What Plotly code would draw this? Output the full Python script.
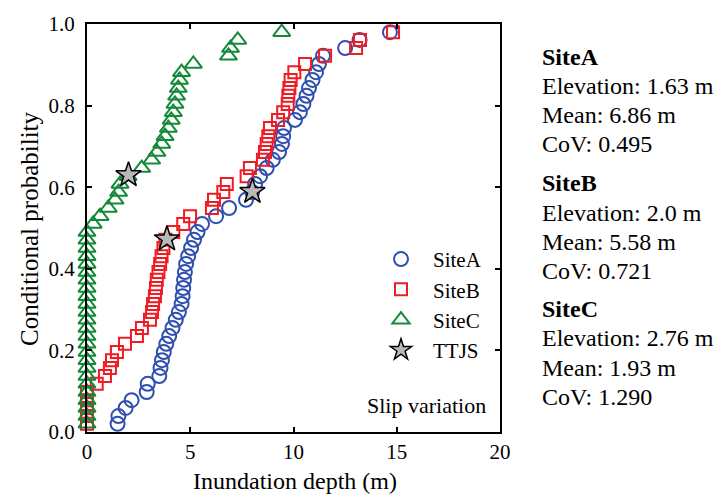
import plotly.graph_objects as go

# Conditional probability levels (plotting positions)
cond_prob = [0.020, 0.039, 0.059, 0.078, 0.098, 0.118, 0.137, 0.157, 0.176, 0.196,
             0.216, 0.235, 0.255, 0.275, 0.294, 0.314, 0.333, 0.353, 0.373, 0.392,
             0.412, 0.431, 0.451, 0.471, 0.490, 0.510, 0.529, 0.549, 0.569, 0.588,
             0.608, 0.627, 0.647, 0.667, 0.686, 0.706, 0.725, 0.745, 0.765, 0.784,
             0.804, 0.824, 0.843, 0.863, 0.882, 0.902, 0.922, 0.941, 0.961, 0.980]

site_a_depth = [1.48, 1.52, 1.87, 2.16, 2.89, 2.94, 3.50, 3.56, 3.63, 3.72,
                3.84, 3.98, 4.14, 4.30, 4.45, 4.58, 4.63, 4.66, 4.70, 4.74,
                4.80, 4.90, 5.04, 5.18, 5.35, 5.57, 6.25, 6.88, 7.70, 8.00,
                8.14, 8.38, 8.70, 9.00, 9.30, 9.44, 9.50, 9.54, 10.07, 10.31,
                10.48, 10.63, 10.75, 10.92, 11.09, 11.23, 11.43, 12.50, 13.20, 14.67]

site_b_depth = [0.0, 0.0, 0.0, 0.0, 0.0, 0.47, 0.87, 1.11, 1.21, 1.45,
                1.84, 2.42, 2.66, 3.05, 3.15, 3.20, 3.29, 3.34, 3.38, 3.46,
                3.54, 3.61, 3.70, 3.80, 4.18, 4.66, 4.99, 6.05, 6.15, 6.60,
                6.77, 7.73, 7.89, 8.52, 8.62, 8.70, 8.78, 8.86, 9.25, 9.50,
                9.72, 9.75, 9.80, 9.86, 10.04, 10.56, 11.53, 13.03, 13.22, 14.82]

site_c_depth = [0.0, 0.0, 0.0, 0.0, 0.0, 0.0, 0.0, 0.0, 0.0, 0.0,
                0.0, 0.0, 0.0, 0.0, 0.0, 0.0, 0.0, 0.0, 0.0, 0.0,
                0.0, 0.0, 0.0, 0.0, 0.0, 0.30, 0.63, 1.03, 1.36, 1.53,
                1.60, 1.99, 2.65, 3.13, 3.39, 3.62, 3.78, 3.94, 4.08, 4.18,
                4.26, 4.34, 4.42, 4.48, 4.58, 5.15, 6.85, 6.95, 7.30, 9.43]

ttjs_depth = [8.01, 3.87, 2.01]
ttjs_prob = [0.589, 0.473, 0.630]

x_ticks = [0, 5, 10, 15, 20]
y_ticks = [0.0, 0.2, 0.4, 0.6, 0.8, 1.0]

site_names = ["SiteA", "SiteB", "SiteC"]
elevations = ["1.63", "2.0", "2.76"]
means = ["6.86", "5.58", "1.93"]
covs = ["0.495", "0.721", "1.290"]

FONT = "Liberation Serif, Times New Roman, serif"
BLUE = "#2f4fb0"
RED = "#f01c24"
GREEN = "#14893a"

fig = go.Figure()
fig.add_trace(go.Scatter(x=site_a_depth, y=cond_prob, mode="markers", name="SiteA",
                         cliponaxis=False,
                         marker=dict(symbol="circle-open", size=14, color=BLUE,
                                     line=dict(width=2, color=BLUE))))
fig.add_trace(go.Scatter(x=site_b_depth, y=cond_prob, mode="markers", name="SiteB",
                         cliponaxis=False,
                         marker=dict(symbol="square-open", size=12, color=RED,
                                     line=dict(width=2, color=RED))))
fig.add_trace(go.Scatter(x=site_c_depth, y=cond_prob, mode="markers", name="SiteC",
                         cliponaxis=False,
                         marker=dict(symbol="triangle-up-open", size=15, color=GREEN,
                                     line=dict(width=2, color=GREEN))))
fig.add_trace(go.Scatter(x=ttjs_depth, y=ttjs_prob, mode="markers", name="TTJS",
                         cliponaxis=False,
                         marker=dict(symbol="star", size=19, color="#b9b9b9",
                                     line=dict(width=1.5, color="black"))))

W, H = 719, 502
L, R, T, B = 87, 219, 20, 70
pw = W - L - R
ph = H - T - B


def px_to_paper_x(px):
    return (px - L) / pw


def px_to_paper_y(py):
    return (H - B - py) / ph


annotations = []
annotations.append(dict(text="Slip variation", x=px_to_paper_x(488), y=px_to_paper_y(405),
                        xref="paper", yref="paper", xanchor="right", yanchor="middle",
                        showarrow=False, font=dict(family=FONT, size=22, color="black")))
annotations.append(dict(text="Conditional probability", x=px_to_paper_x(30), y=px_to_paper_y(227),
                        xref="paper", yref="paper", xanchor="center", yanchor="middle",
                        textangle=-90, showarrow=False,
                        font=dict(family=FONT, size=25, color="black")))
annotations.append(dict(text="Inundation depth (m)", x=px_to_paper_x(295), y=px_to_paper_y(481),
                        xref="paper", yref="paper", xanchor="center", yanchor="middle",
                        showarrow=False, font=dict(family=FONT, size=24, color="black")))

group_tops = [53, 181, 308]
line_gap = 29.5
for k in range(3):
    lines = [f"<b>{site_names[k]}</b>",
             f"Elevation: {elevations[k]} m",
             f"Mean: {means[k]} m",
             f"CoV: {covs[k]}"]
    for j, t in enumerate(lines):
        annotations.append(dict(text=t, x=px_to_paper_x(540), y=px_to_paper_y(group_tops[k] + j * line_gap),
                                xref="paper", yref="paper", xanchor="left", yanchor="middle",
                                showarrow=False, font=dict(family=FONT, size=24, color="black")))

axis_common = dict(showline=True, linecolor="black", linewidth=2, mirror="allticks",
                   ticks="inside", ticklen=5, tickwidth=1.5, tickcolor="black",
                   showgrid=False, zeroline=False,
                   tickfont=dict(family=FONT, size=21, color="black"))

fig.update_layout(
    width=W, height=H,
    margin=dict(l=L, r=R, t=T, b=B),
    paper_bgcolor="white", plot_bgcolor="white",
    font=dict(family=FONT, color="black"),
    xaxis=dict(range=[0, 20], tickvals=x_ticks, **axis_common),
    yaxis=dict(range=[0, 1], tickvals=y_ticks, tickformat=".1f", ticklabelstandoff=6, **axis_common),
    legend=dict(x=px_to_paper_x(369), y=px_to_paper_y(237), xanchor="left", yanchor="top",
                bgcolor="rgba(0,0,0,0)", font=dict(family=FONT, size=21, color="black"),
                itemsizing="trace", itemwidth=54, tracegroupgap=0),
    annotations=annotations,
    showlegend=True,
)

fig.write_html("out.html", config={"displayModeBar": False},
               post_script="document.body.style.margin='0px';")
